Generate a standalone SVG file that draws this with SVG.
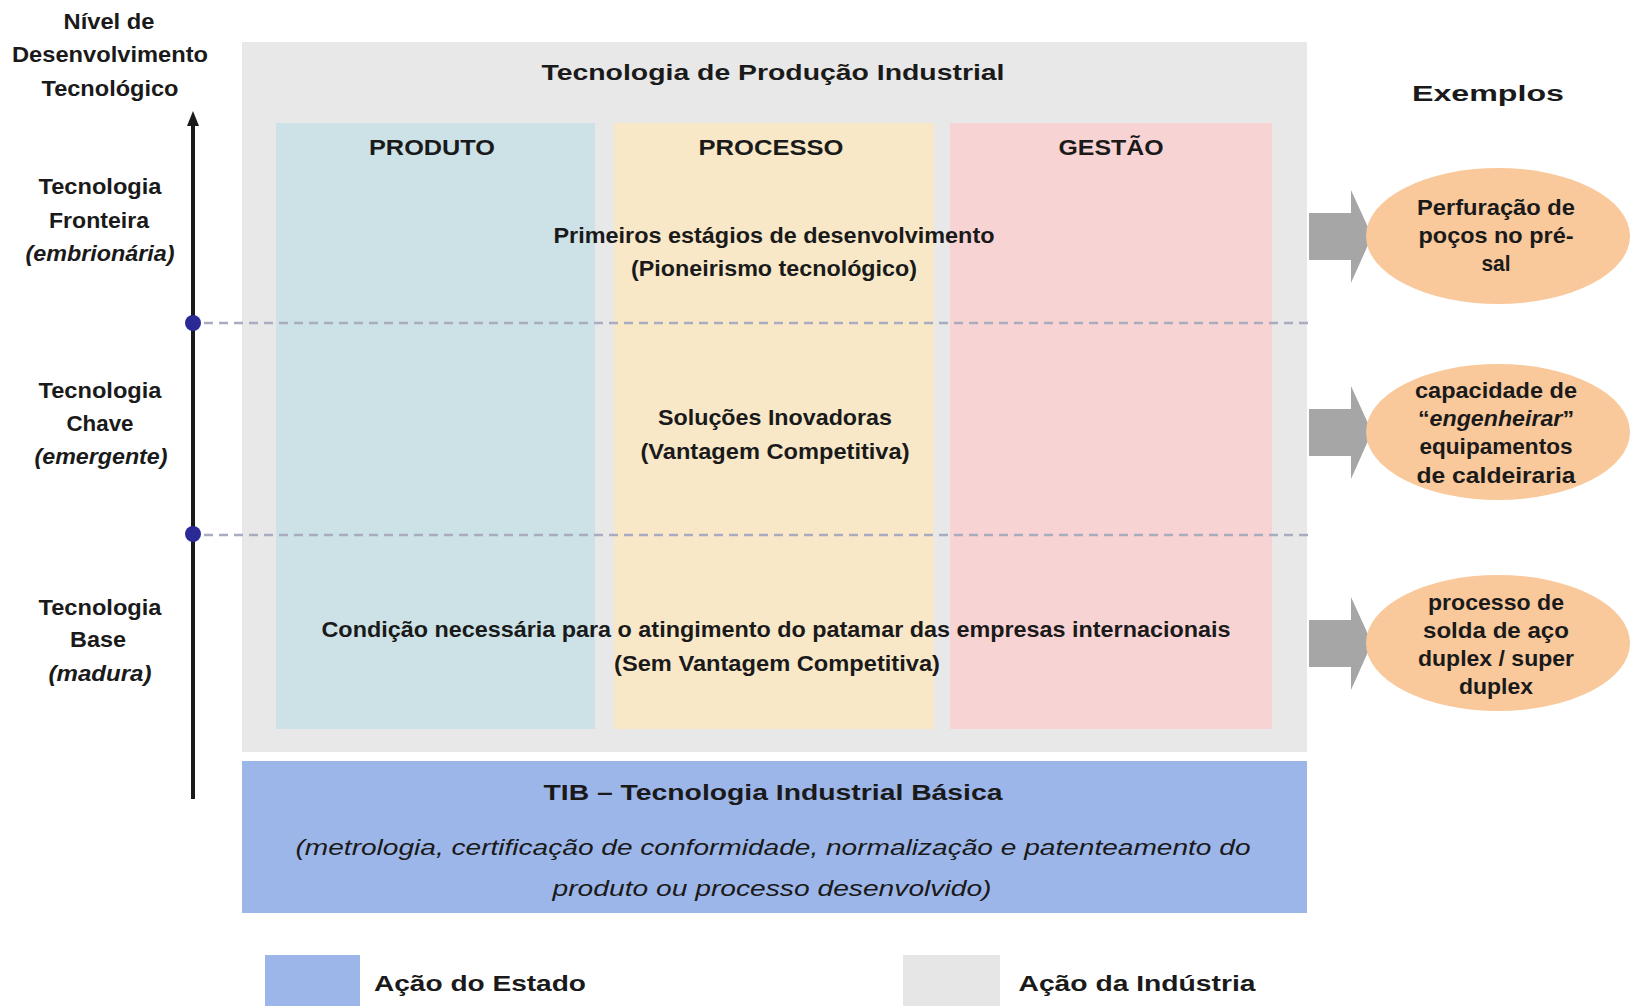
<svg xmlns="http://www.w3.org/2000/svg" width="1632" height="1006" viewBox="0 0 1632 1006">
<defs>
<style>
.t{font-family:"Liberation Sans",Arial,sans-serif;font-weight:bold;fill:#1a1a1a;text-anchor:middle;font-size:22px}
.i{font-style:italic}
.n{font-weight:normal}
.dash{stroke:#a9abbf;stroke-width:2.5;stroke-dasharray:9 6;fill:none}
.arr{fill:#a6a6a6}
.ell{fill:#f9c89b}
.dot{fill:#2a2a96}
</style>
</defs>
<rect width="1632" height="1006" fill="#ffffff"/>

<g id="panel-industria">
<rect x="242" y="42" width="1065" height="710" fill="#e8e8e8"/>
<text class="t" x="773" y="80" font-size="25" textLength="463" lengthAdjust="spacingAndGlyphs">Tecnologia de Produção Industrial</text>
</g>

<g id="col-produto">
<rect x="276" y="123" width="319" height="606" fill="#cce2e6"/>
<text class="t" x="432" y="155" font-size="25" textLength="126" lengthAdjust="spacingAndGlyphs">PRODUTO</text>
</g>
<g id="col-processo">
<rect x="614" y="123" width="320" height="606" fill="#f8e8c8"/>
<text class="t" x="771" y="155" font-size="25" textLength="145" lengthAdjust="spacingAndGlyphs">PROCESSO</text>
</g>
<g id="col-gestao">
<rect x="950" y="123" width="322" height="606" fill="#f8d3d4"/>
<text class="t" x="1111" y="155" font-size="25" textLength="105" lengthAdjust="spacingAndGlyphs">GESTÃO</text>
</g>

<g id="connectors">
<line class="dash" x1="204" y1="323" x2="1308" y2="323"/>
<line class="dash" x1="204" y1="535" x2="1308" y2="535"/>
<line x1="193" y1="124" x2="193" y2="799" stroke="#1a1a1a" stroke-width="4"/>
<polygon points="193,111 187,126 199,126" fill="#1a1a1a"/>
<circle class="dot" cx="193" cy="323" r="8"/>
<circle class="dot" cx="193" cy="534" r="8"/>
<polygon class="arr" points="1309,213 1351,213 1351,190 1372,236 1351,283 1351,260 1309,260"/>
<polygon class="arr" points="1309,409 1351,409 1351,386 1372,432 1351,479 1351,456 1309,456"/>
<polygon class="arr" points="1309,620 1351,620 1351,597 1372,643 1351,690 1351,667 1309,667"/>
</g>

<g id="row-fronteira">
<text class="t" x="774" y="243" textLength="441" lengthAdjust="spacingAndGlyphs">Primeiros estágios de desenvolvimento</text>
<text class="t" x="774" y="276" textLength="286" lengthAdjust="spacingAndGlyphs">(Pioneirismo tecnológico)</text>
</g>
<g id="row-chave">
<text class="t" x="775" y="425" textLength="234" lengthAdjust="spacingAndGlyphs">Soluções Inovadoras</text>
<text class="t" x="775" y="459" textLength="269" lengthAdjust="spacingAndGlyphs">(Vantagem Competitiva)</text>
</g>
<g id="row-base">
<text class="t" x="776" y="637" textLength="909" lengthAdjust="spacingAndGlyphs">Condição necessária para o atingimento do patamar das empresas internacionais</text>
<text class="t" x="777" y="671" textLength="326" lengthAdjust="spacingAndGlyphs">(Sem Vantagem Competitiva)</text>
</g>

<g id="panel-tib">
<rect x="242" y="761" width="1065" height="152" fill="#9db6e9"/>
<text class="t" x="773" y="800" font-size="24" textLength="459" lengthAdjust="spacingAndGlyphs">TIB – Tecnologia Industrial Básica</text>
<text class="t i n" x="773" y="855" font-size="25" fill="#333" textLength="955" lengthAdjust="spacingAndGlyphs">(metrologia, certificação de conformidade, normalização e patenteamento do</text>
<text class="t i n" x="772" y="896" font-size="25" fill="#333" textLength="439" lengthAdjust="spacingAndGlyphs">produto ou processo desenvolvido)</text>
</g>

<g id="axis-labels">
<text class="t" x="109" y="29" textLength="91" lengthAdjust="spacingAndGlyphs">Nível de</text>
<text class="t" x="110" y="62" textLength="196" lengthAdjust="spacingAndGlyphs">Desenvolvimento</text>
<text class="t" x="110" y="96" textLength="137" lengthAdjust="spacingAndGlyphs">Tecnológico</text>
</g>
<g id="level-fronteira">
<text class="t" x="100" y="194" font-size="23" textLength="123" lengthAdjust="spacingAndGlyphs">Tecnologia</text>
<text class="t" x="99" y="228" font-size="23" textLength="100" lengthAdjust="spacingAndGlyphs">Fronteira</text>
<text class="t i" x="100" y="261" textLength="149" lengthAdjust="spacingAndGlyphs">(embrionária)</text>
</g>
<g id="level-chave">
<text class="t" x="100" y="398" font-size="23" textLength="123" lengthAdjust="spacingAndGlyphs">Tecnologia</text>
<text class="t" x="100" y="431" font-size="23" textLength="67" lengthAdjust="spacingAndGlyphs">Chave</text>
<text class="t i" x="101" y="464" textLength="133" lengthAdjust="spacingAndGlyphs">(emergente)</text>
</g>
<g id="level-base">
<text class="t" x="100" y="615" font-size="23" textLength="123" lengthAdjust="spacingAndGlyphs">Tecnologia</text>
<text class="t" x="98" y="647" font-size="23" textLength="56" lengthAdjust="spacingAndGlyphs">Base</text>
<text class="t i" x="100" y="681" textLength="103" lengthAdjust="spacingAndGlyphs">(madura)</text>
</g>

<g id="exemplos-title">
<text class="t" x="1488" y="101" font-size="30" fill="#262626" textLength="152" lengthAdjust="spacingAndGlyphs">Exemplos</text>
</g>
<g id="ex-presal">
<ellipse class="ell" cx="1498" cy="236" rx="132" ry="68"/>
<text class="t" x="1496" y="215" font-size="21" textLength="158" lengthAdjust="spacingAndGlyphs">Perfuração de</text>
<text class="t" x="1496" y="243" font-size="21" textLength="155" lengthAdjust="spacingAndGlyphs">poços no pré-</text>
<text class="t" x="1496" y="271" font-size="21" textLength="29" lengthAdjust="spacingAndGlyphs">sal</text>
</g>
<g id="ex-caldeiraria">
<ellipse class="ell" cx="1498" cy="432" rx="132" ry="68"/>
<text class="t" x="1496" y="398" font-size="21" textLength="162" lengthAdjust="spacingAndGlyphs">capacidade de</text>
<text class="t" x="1496" y="426" font-size="21" textLength="156" lengthAdjust="spacingAndGlyphs">“<tspan class="i">engenheirar</tspan>”</text>
<text class="t" x="1496" y="454" font-size="21" textLength="153" lengthAdjust="spacingAndGlyphs">equipamentos</text>
<text class="t" x="1496" y="483" font-size="21" textLength="159" lengthAdjust="spacingAndGlyphs">de caldeiraria</text>
</g>
<g id="ex-duplex">
<ellipse class="ell" cx="1498" cy="643" rx="132" ry="68"/>
<text class="t" x="1496" y="610" font-size="21" textLength="136" lengthAdjust="spacingAndGlyphs">processo de</text>
<text class="t" x="1496" y="638" font-size="21" textLength="146" lengthAdjust="spacingAndGlyphs">solda de aço</text>
<text class="t" x="1496" y="666" font-size="21" textLength="156" lengthAdjust="spacingAndGlyphs">duplex / super</text>
<text class="t" x="1496" y="694" font-size="21" textLength="74" lengthAdjust="spacingAndGlyphs">duplex</text>
</g>

<g id="legend-estado">
<rect x="265" y="955" width="95" height="51" fill="#9db6e9"/>
<text class="t" x="480" y="991" font-size="27" fill="#222" textLength="212" lengthAdjust="spacingAndGlyphs">Ação do Estado</text>
</g>
<g id="legend-industria">
<rect x="903" y="955" width="97" height="51" fill="#e6e6e6"/>
<text class="t" x="1137" y="991" font-size="27" fill="#222" textLength="237" lengthAdjust="spacingAndGlyphs">Ação da Indústria</text>
</g>
</svg>
